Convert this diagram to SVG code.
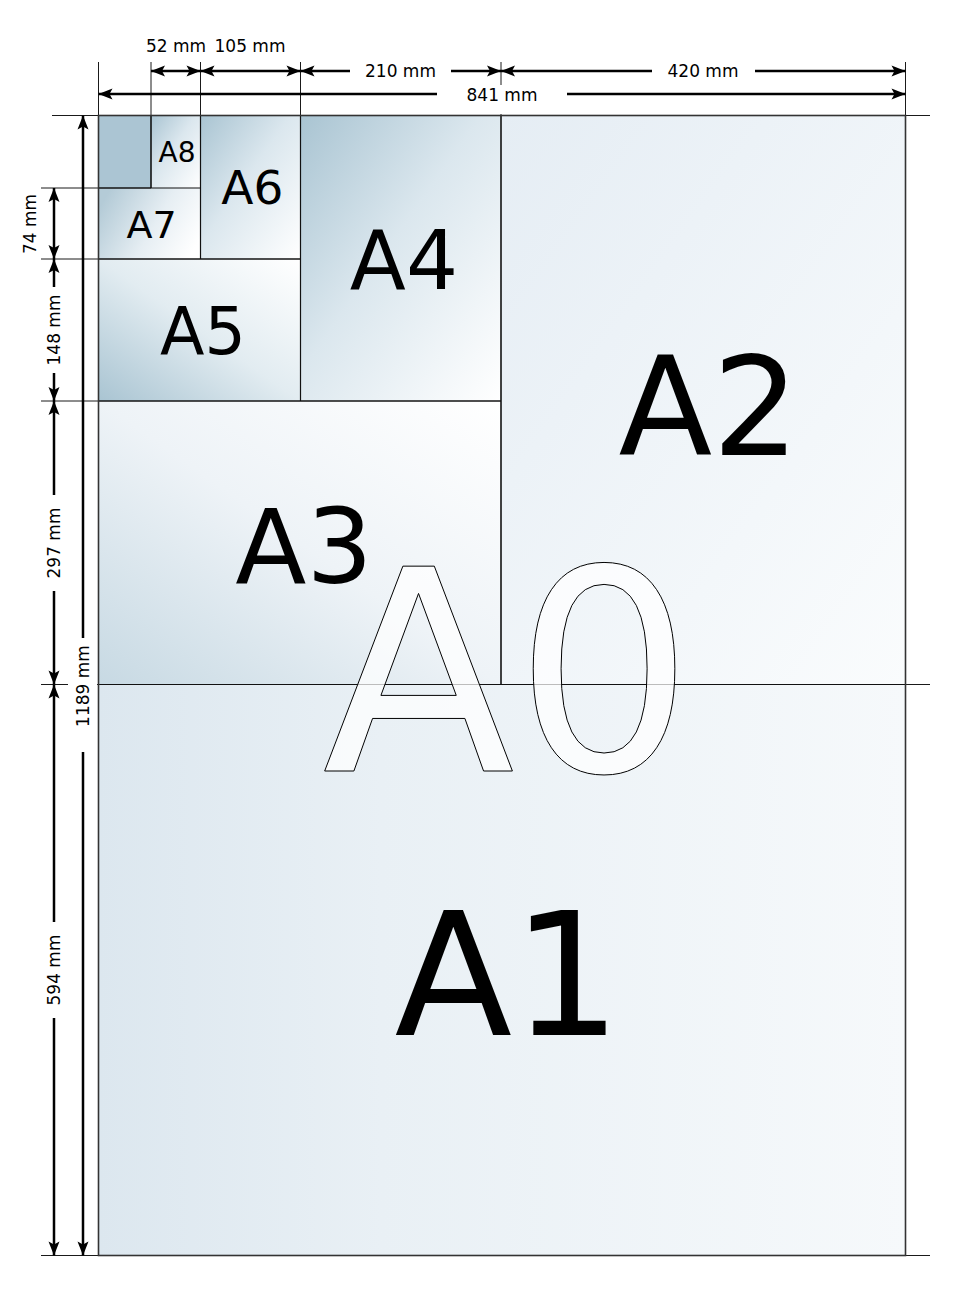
<svg xmlns="http://www.w3.org/2000/svg" width="960" height="1296" viewBox="0 0 960 1296">
<style>
.ext{stroke:#1a1a1a;stroke-width:1;fill:none}
.div{stroke:#111;stroke-width:1.2;fill:none}
.dim{stroke:#000;stroke-width:2.5;fill:none;marker-start:url(#ah);marker-end:url(#ah)}
.dt{font-family:"DejaVu Sans",sans-serif;font-size:17px;fill:#000;text-anchor:middle}
.big{font-family:"DejaVu Sans",sans-serif;fill:#000;text-anchor:middle}
.outline{font-family:"DejaVu Sans",sans-serif;text-anchor:middle;fill:#fff;fill-opacity:0.72;stroke:#000;stroke-width:1}
.bg{fill:#fff}
</style>
<defs>
<marker id="ah" markerUnits="userSpaceOnUse" markerWidth="18" markerHeight="14" viewBox="-16 -7 18 14" refX="0" refY="0" orient="auto-start-reverse">
<path d="M0,0 L-14,-5.5 L-11,0 L-14,5.5 Z" fill="#000"/>
</marker>
<linearGradient id="gTL" x1="0" y1="0" x2="1" y2="1">
<stop offset="0" stop-color="#a9c4d2"/><stop offset="0.45" stop-color="#dbe7ee"/><stop offset="1" stop-color="#ffffff"/>
</linearGradient>
<linearGradient id="gBL" x1="0" y1="1" x2="1" y2="0">
<stop offset="0" stop-color="#a9c4d2"/><stop offset="0.5" stop-color="#e2ecf1"/><stop offset="1" stop-color="#ffffff"/>
</linearGradient>
<linearGradient id="gL" x1="0" y1="0.3" x2="1" y2="0.7">
<stop offset="0" stop-color="#b4cbd7"/><stop offset="0.55" stop-color="#e6eef3"/><stop offset="1" stop-color="#ffffff"/>
</linearGradient>
<linearGradient id="gA3" x1="0" y1="1" x2="1" y2="0">
<stop offset="0" stop-color="#c7d9e3"/><stop offset="0.5" stop-color="#eef3f7"/><stop offset="1" stop-color="#ffffff"/>
</linearGradient>
<linearGradient id="gA2" x1="0" y1="0" x2="1" y2="1">
<stop offset="0" stop-color="#e5edf4"/><stop offset="1" stop-color="#fafcfd"/>
</linearGradient>
<linearGradient id="gA1" x1="0" y1="0" x2="1" y2="0">
<stop offset="0" stop-color="#dce7ef"/><stop offset="0.35" stop-color="#e9f0f5"/><stop offset="1" stop-color="#f6f9fb"/>
</linearGradient>
</defs>
<rect x="0" y="0" width="960" height="1296" fill="#fff"/>

<g id="sheets">
<g id="A1"><rect x="98.5" y="684.5" width="807" height="571" fill="url(#gA1)"/></g>
<g id="A2"><rect x="501" y="115.5" width="404.5" height="569" fill="url(#gA2)"/></g>
<g id="A3"><rect x="98.5" y="401" width="402.5" height="283.5" fill="url(#gA3)"/></g>
<g id="A4"><rect x="300.5" y="115.5" width="200.5" height="285.5" fill="url(#gTL)"/></g>
<g id="A5"><rect x="98.5" y="259" width="202" height="142" fill="url(#gBL)"/></g>
<g id="A6"><rect x="200.5" y="115.5" width="100" height="143.5" fill="url(#gTL)"/></g>
<g id="A7"><rect x="98.5" y="188" width="102" height="71" fill="url(#gL)"/></g>
<g id="A8blank"><rect x="98.5" y="115.5" width="52.5" height="72.5" fill="#abc5d3"/></g>
<g id="A8"><rect x="151" y="115.5" width="49.5" height="72.5" fill="url(#gTL)"/></g>
</g>

<g id="connectors">
<line class="ext" x1="98.5" y1="62" x2="98.5" y2="1256"/>
<line class="ext" x1="151" y1="62" x2="151" y2="188"/>
<line class="ext" x1="200.5" y1="62" x2="200.5" y2="259"/>
<line class="ext" x1="300.5" y1="62" x2="300.5" y2="401"/>
<line class="ext" x1="501" y1="62" x2="501" y2="684.5"/>
<line class="ext" x1="905.5" y1="62" x2="905.5" y2="1256"/>
<line class="ext" x1="52" y1="115.5" x2="930" y2="115.5"/>
<line class="ext" x1="41" y1="188" x2="151" y2="188"/>
<line class="ext" x1="41" y1="259" x2="300.5" y2="259"/>
<line class="ext" x1="41" y1="401" x2="501" y2="401"/>
<line class="ext" x1="41" y1="684.5" x2="930" y2="684.5"/>
<line class="ext" x1="41" y1="1255.5" x2="930" y2="1255.5"/>
<line class="div" x1="98.5" y1="684.5" x2="905.5" y2="684.5"/>
<line class="div" x1="501" y1="115.5" x2="501" y2="684.5"/>
<line class="div" x1="98.5" y1="401" x2="501" y2="401"/>
<line class="div" x1="300.5" y1="115.5" x2="300.5" y2="401"/>
<line class="div" x1="98.5" y1="259" x2="300.5" y2="259"/>
<line class="div" x1="200.5" y1="115.5" x2="200.5" y2="259"/>
<line class="div" x1="98.5" y1="188" x2="200.5" y2="188"/>
<line class="div" x1="151" y1="115.5" x2="151" y2="188"/>
<rect x="98.5" y="115.5" width="807" height="1140" fill="none" stroke="#333" stroke-width="1.6"/>
<line class="dim" x1="151" y1="71" x2="200.5" y2="71"/>
<line class="dim" x1="200.5" y1="71" x2="300.5" y2="71"/>
<line class="dim" x1="300.5" y1="71" x2="501" y2="71"/>
<line class="dim" x1="501" y1="71" x2="905.5" y2="71"/>
<line class="dim" x1="98.5" y1="94" x2="905.5" y2="94"/>
<line class="dim" x1="54" y1="188" x2="54" y2="259"/>
<line class="dim" x1="54" y1="259" x2="54" y2="401"/>
<line class="dim" x1="54" y1="401" x2="54" y2="684.5"/>
<line class="dim" x1="54" y1="684.5" x2="54" y2="1255.5"/>
<line class="dim" x1="83" y1="115.5" x2="83" y2="1255.5"/>
<rect class="bg" x="350" y="61" width="101" height="21"/>
<rect class="bg" x="652" y="61" width="103" height="21"/>
<rect class="bg" x="437" y="85" width="130" height="29"/>
<rect class="bg" x="43" y="287" width="22" height="86"/>
<rect class="bg" x="43" y="495" width="22" height="96"/>
<rect class="bg" x="43" y="922" width="22" height="96"/>
<rect class="bg" x="68" y="638" width="29" height="114"/>
</g>

<g id="dimlabels">
<text class="dt" x="176" y="52">52 mm</text>
<text class="dt" x="250" y="52">105 mm</text>
<text class="dt" x="400.5" y="77">210 mm</text>
<text class="dt" x="703" y="77">420 mm</text>
<text class="dt" x="502" y="101">841 mm</text>
<text class="dt" transform="translate(36,224) rotate(-90)">74 mm</text>
<text class="dt" transform="translate(60,330) rotate(-90)">148 mm</text>
<text class="dt" transform="translate(60,543) rotate(-90)">297 mm</text>
<text class="dt" transform="translate(60,970) rotate(-90)">594 mm</text>
<text class="dt" transform="translate(89,686) rotate(-90)">1189 mm</text>
</g>

<g id="labels">
<text class="big" x="177" y="162" font-size="28">A8</text>
<text class="big" x="151.6" y="238" font-size="38">A7</text>
<text class="big" x="252.4" y="204" font-size="47">A6</text>
<text class="big" x="203" y="354" font-size="65">A5</text>
<text class="big" x="404" y="289" font-size="82">A4</text>
<text class="big" x="304" y="583" font-size="104">A3</text>
<text class="big" x="709" y="455" font-size="137">A2</text>
<text class="big" x="508" y="1035" font-size="172">A1</text>
<text class="outline" x="508" y="771" font-size="281">A0</text>
</g>
</svg>
